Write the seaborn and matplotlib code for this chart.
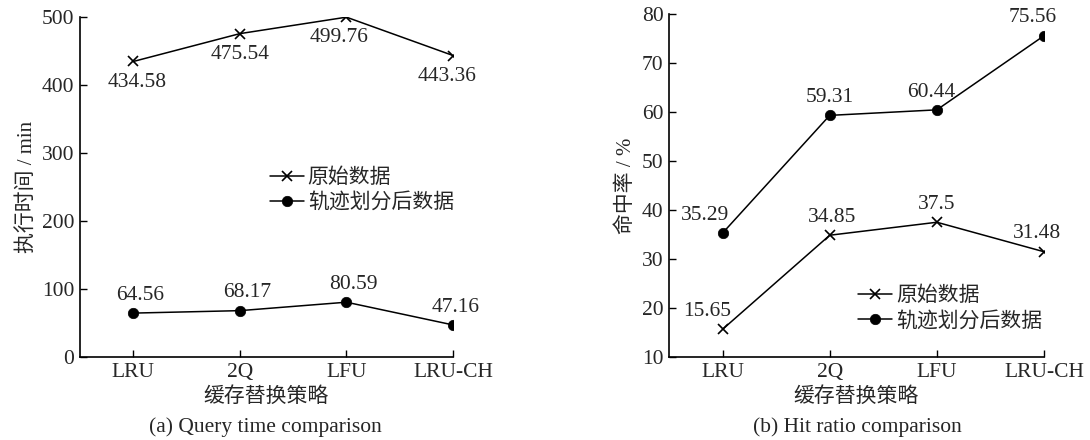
import matplotlib
matplotlib.use("Agg")
import matplotlib.pyplot as plt
import seaborn as sns
import numpy as np
import pandas as pd

categories = ["LRU", "2Q", "LFU", "LRU-CH"]
series_names = ["原始数据", "轨迹划分后数据"]
time_raw = [434.58, 475.54, 499.76, 443.36]
time_split = [64.56, 68.17, 80.59, 47.16]
hit_raw = [15.65, 34.85, 37.5, 31.48]
hit_split = [35.29, 59.31, 60.44, 75.56]
time_labels_raw = ["434.58", "475.54", "499.76", "443.36"]
time_labels_split = ["64.56", "68.17", "80.59", "47.16"]
hit_labels_raw = ["15.65", "34.85", "37.5", "31.48"]
hit_labels_split = ["35.29", "59.31", "60.44", "75.56"]
left_yticks = [0, 100, 200, 300, 400, 500]
right_yticks = [10, 20, 30, 40, 50, 60, 70, 80]

sns.set_theme(style="ticks")
plt.rcParams['font.family'] = ['Liberation Serif', 'Noto Sans CJK SC']
plt.rcParams['axes.unicode_minus'] = False
FS = 15.5
CJK_FS = 15

fig = plt.figure(figsize=(10.9, 4.4), dpi=100)
ax1 = fig.add_axes([80/1090, 83/440, 373/1090, 340/440])
ax2 = fig.add_axes([669/1090, 83/440, 375/1090, 343/440])

x = np.arange(len(categories))


def draw(ax, raw, split, lab_raw, lab_split, raw_below, dx_raw, dx_split,
         ylim, yticks, ylabel, caption, cap_x, legend_loc):
    df_raw = pd.DataFrame({"x": x, "y": raw})
    df_split = pd.DataFrame({"x": x, "y": split})
    sns.lineplot(data=df_raw, x="x", y="y", ax=ax, color="black", marker="x",
                 markersize=7, markeredgewidth=1.2, markeredgecolor="black",
                 linewidth=1.1, label=series_names[0])
    sns.lineplot(data=df_split, x="x", y="y", ax=ax, color="black", marker="o",
                 markersize=7.5, markeredgecolor="black", markeredgewidth=0.5,
                 linewidth=1.1, label=series_names[1])
    for xi, yi, t, dx in zip(x, raw, lab_raw, dx_raw):
        if raw_below:
            ax.annotate(t, (xi, yi), xytext=(dx, -8), textcoords="offset points",
                        ha="center", va="top", fontsize=FS)
        else:
            ax.annotate(t, (xi, yi), xytext=(dx, 6), textcoords="offset points",
                        ha="center", va="bottom", fontsize=FS)
    for xi, yi, t, dx in zip(x, split, lab_split, dx_split):
        ax.annotate(t, (xi, yi), xytext=(dx, 6), textcoords="offset points",
                    ha="center", va="bottom", fontsize=FS)
    ax.set_xlim(-0.5, len(categories) - 1)
    ax.set_ylim(*ylim)
    ax.set_yticks(yticks)
    ax.set_xticks(x)
    ax.set_xticklabels(categories)
    ax.tick_params(direction="in", labelsize=FS, length=5, width=1, color="black", pad=4)
    for s in ["top", "right"]:
        ax.spines[s].set_visible(False)
    for s in ["left", "bottom"]:
        ax.spines[s].set_color("black")
        ax.spines[s].set_linewidth(1.2)
    ax.set_xlabel("缓存替换策略", fontsize=CJK_FS, labelpad=4)
    ax.set_ylabel(ylabel, fontsize=CJK_FS, labelpad=4)
    fig.text(cap_x, 1 - 427/440, caption, ha="center", va="center", fontsize=FS)
    ax.legend(loc="upper left", bbox_to_anchor=legend_loc, frameon=False, fontsize=CJK_FS,
              handlelength=1.6, handletextpad=0.2, labelspacing=0.25, borderpad=0,
              borderaxespad=0)


draw(ax1, time_raw, time_split, time_labels_raw, time_labels_split, True,
     [3, 0, -5, -4], [5, 5, 5, 2],
     (0, 500), left_yticks, "执行时间 / min", "(a) Query time comparison", 265/1090, (0.51, 0.555))
draw(ax2, hit_raw, hit_split, hit_labels_raw, hit_labels_split, False,
     [-11, 2, 0, -5], [-13, 0, -4, -8],
     (10, 80), right_yticks, "命中率 / %", "(b) Hit ratio comparison", 857/1090, (0.505, 0.205))

fig.savefig("out.png", dpi=100)
